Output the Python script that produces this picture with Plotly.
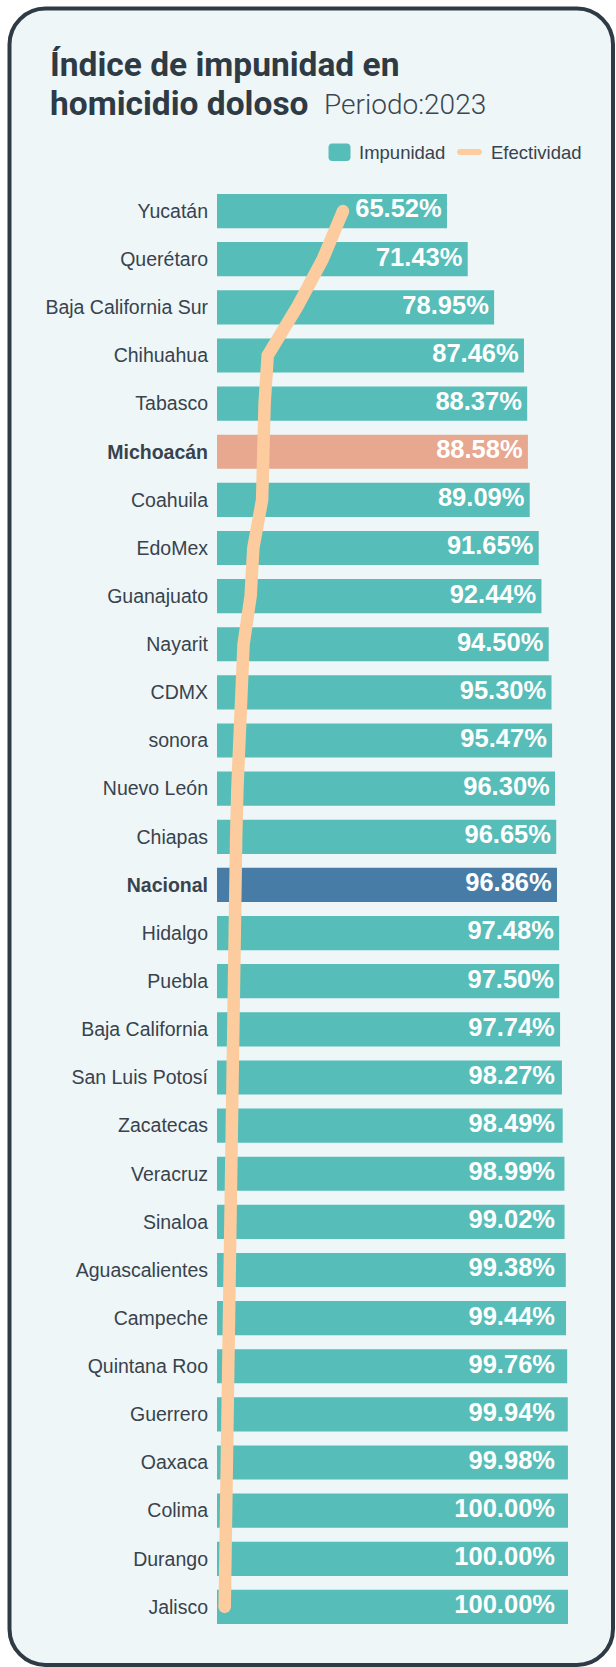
import plotly.graph_objects as go

# ---------------- data ----------------
states = ["Yucatán", "Querétaro", "Baja California Sur", "Chihuahua", "Tabasco",
          "Michoacán", "Coahuila", "EdoMex", "Guanajuato", "Nayarit", "CDMX",
          "sonora", "Nuevo León", "Chiapas", "Nacional", "Hidalgo", "Puebla",
          "Baja California", "San Luis Potosí", "Zacatecas", "Veracruz", "Sinaloa",
          "Aguascalientes", "Campeche", "Quintana Roo", "Guerrero", "Oaxaca",
          "Colima", "Durango", "Jalisco"]
impunidad = [65.52, 71.43, 78.95, 87.46, 88.37, 88.58, 89.09, 91.65, 92.44, 94.50,
             95.30, 95.47, 96.30, 96.65, 96.86, 97.48, 97.50, 97.74, 98.27, 98.49,
             98.99, 99.02, 99.38, 99.44, 99.76, 99.94, 99.98, 100.00, 100.00, 100.00]
efectividad = [34.48, 28.57, 21.05, 12.54, 11.63, 11.42, 10.91, 8.35, 7.56, 5.50,
               4.70, 4.53, 3.70, 3.35, 3.14, 2.52, 2.50, 2.26, 1.73, 1.51,
               1.01, 0.98, 0.62, 0.56, 0.24, 0.06, 0.02, 0.00, 0.00, 0.00]
highlight = {"Michoacán": "#e8a78f", "Nacional": "#467ca6"}

# ---------------- styles ----------------
TEAL = "#57bdb8"
PEACH = "#fccc9e"
DARK = "#2e3a44"
LABEL = "#38434d"
CARD_BG = "#eef6f8"
SANS = "Liberation Sans, Arial, sans-serif"
TITLE_FONT = "Roboto, Noto Sans, sans-serif"

W, H = 616, 1667
L, R, T, B = 217, 568, 187, 1631
PW, PH = R - L, B - T
LABEL_PAD = 1.5     # axis units between label end and bar end
LABEL_CAP = 97.8    # labels never end further right than this


def px(x):
    return (x - L) / PW


def py(y):
    return (B - y) / PH


idx = list(range(len(states)))
colors = [highlight.get(s, TEAL) for s in states]
ticktext = [f"<b>{s}</b>" if s in highlight else s for s in states]

fig = go.Figure()
fig.add_trace(go.Bar(
    y=idx, x=impunidad, orientation="h", width=0.71,
    marker=dict(color=colors, line=dict(width=0)),
    name="Impunidad", hoverinfo="x+y",
))
# value labels, right-aligned inside bars
fig.add_trace(go.Scatter(
    y=idx, x=[min(v, LABEL_CAP) - LABEL_PAD for v in impunidad], mode="text",
    text=[f"<b>{v:.2f}%</b>" for v in impunidad], textposition="middle left",
    textfont=dict(family=SANS, size=25.5, color="white"), hoverinfo="skip",
    cliponaxis=False,
))
n = len(efectividad)
fig.add_trace(go.Scatter(
    y=idx, x=efectividad, xaxis="x2", mode="lines+markers",
    line=dict(color=PEACH, width=12.5),
    marker=dict(color=PEACH, opacity=1,
                size=[12.5 if i in (0, n - 1) else 0 for i in range(n)],
                line=dict(width=0)),
    name="Efectividad", cliponaxis=False,
))


def rounded(x0, y0, x1, y1, r):
    k = 0.5523 * r

    def P(x, y):
        return f"{px(x):.6f},{py(y):.6f}"
    d = f"M {P(x0 + r, y0)} L {P(x1 - r, y0)} "
    d += f"C {P(x1 - r + k, y0)} {P(x1, y0 + r - k)} {P(x1, y0 + r)} "
    d += f"L {P(x1, y1 - r)} "
    d += f"C {P(x1, y1 - r + k)} {P(x1 - r + k, y1)} {P(x1 - r, y1)} "
    d += f"L {P(x0 + r, y1)} "
    d += f"C {P(x0 + r - k, y1)} {P(x0, y1 - r + k)} {P(x0, y1 - r)} "
    d += f"L {P(x0, y0 + r)} "
    d += f"C {P(x0, y0 + r - k)} {P(x0 + r - k, y0)} {P(x0 + r, y0)} Z"
    return d


shapes = [
    dict(type="path", xref="paper", yref="paper", path=rounded(9.5, 8.5, 613, 1665, 36),
         fillcolor=CARD_BG, line=dict(color=DARK, width=4), layer="below"),
    dict(type="path", xref="paper", yref="paper", path=rounded(328.5, 143.5, 350.5, 161, 3.5),
         fillcolor=TEAL, line=dict(width=0), layer="above"),
    dict(type="path", xref="paper", yref="paper", path=rounded(457, 149, 482, 155, 3),
         fillcolor=PEACH, line=dict(width=0), layer="above"),
]

ann = [
    dict(text="Índice de impunidad en", x=px(48), y=py(64.5), xanchor="left", yanchor="middle",
         font=dict(family=TITLE_FONT, size=33.5, color=DARK, weight="bold")),
    dict(text="homicidio doloso", x=px(48), y=py(103.5), xanchor="left", yanchor="middle",
         font=dict(family=TITLE_FONT, size=33.5, color=DARK, weight="bold")),
    dict(text="Periodo:2023", x=px(322), y=py(104.5), xanchor="left", yanchor="middle",
         font=dict(family=TITLE_FONT, size=28, color="#3a4651", weight=300)),
    dict(text="Impunidad", x=px(357), y=py(152.5), xanchor="left", yanchor="middle",
         font=dict(family=SANS, size=18.5, color=LABEL)),
    dict(text="Efectividad", x=px(489), y=py(152.5), xanchor="left", yanchor="middle",
         font=dict(family=SANS, size=18.5, color=LABEL)),
]
for a in ann:
    a.update(xref="paper", yref="paper", showarrow=False)

fig.update_layout(
    width=W, height=H,
    margin=dict(l=L, r=W - R, t=T, b=H - B, pad=0),
    paper_bgcolor="white", plot_bgcolor="rgba(0,0,0,0)",
    showlegend=False,
    xaxis=dict(range=[0, 100], visible=False, fixedrange=True),
    xaxis2=dict(range=[-2.24, 100.06], overlaying="x", visible=False, fixedrange=True),
    yaxis=dict(range=[len(states) - 0.5, -0.5], tickvals=idx, ticktext=ticktext,
               showgrid=False, zeroline=False, showline=False, ticks="",
               ticklabelstandoff=8, fixedrange=True,
               tickfont=dict(family=SANS, size=19.5, color=LABEL)),
    shapes=shapes, annotations=ann,
)

fig.write_html("out.html", config={"displayModeBar": False},
               post_script="document.body.style.margin='0';document.body.style.overflow='hidden';")
